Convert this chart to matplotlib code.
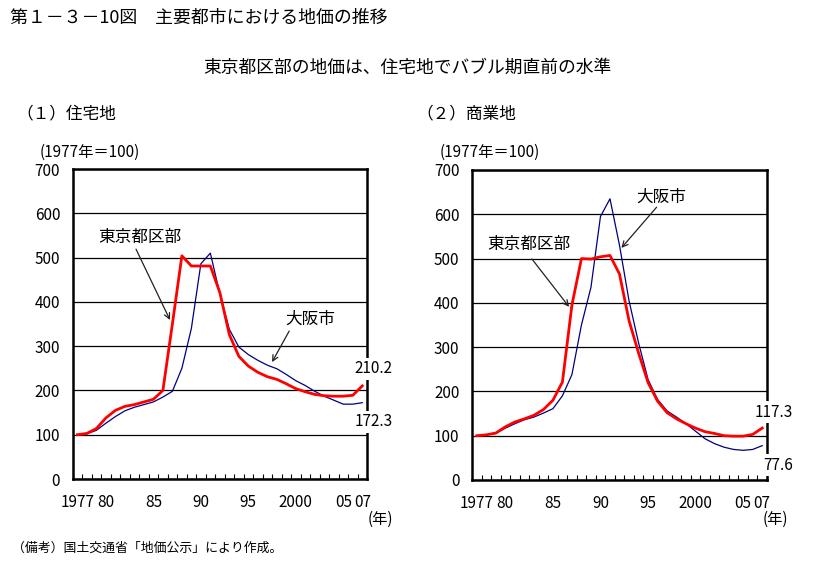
import matplotlib
matplotlib.use("Agg")
import matplotlib.pyplot as plt
import numpy as np

plt.rcParams['font.family'] = ['Noto Sans CJK JP', 'DejaVu Sans']

years = list(range(1977, 2008))
tick_years = [1977, 1980, 1985, 1990, 1995, 2000, 2005, 2007]
tick_labels = ["1977", "80", "85", "90", "95", "2000", "05", "07"]

tokyo_res = [100, 103, 114, 138, 155, 164, 168, 174, 180, 200,
             350, 504, 481, 481, 481, 421, 326, 277, 255, 241,
             231, 225, 215, 204, 197, 191, 188, 187, 187, 189, 210.2]
osaka_res = [100, 102, 110, 126, 141, 154, 162, 168, 174, 185,
             198, 250, 340, 486, 510, 418, 338, 298, 281, 268,
             257, 249, 236, 222, 211, 198, 187, 178, 169, 169, 172.3]
tokyo_com = [100, 102, 106, 120, 131, 138, 146, 159, 180, 221,
             395, 500, 499, 504, 507, 465, 360, 287, 220, 178,
             152, 138, 127, 117, 109, 105, 100, 99, 99, 103, 117.3]
osaka_com = [100, 102, 105, 117, 127, 136, 142, 151, 161, 190,
             238, 350, 435, 595, 635, 530, 405, 310, 227, 182,
             156, 142, 127, 110, 93, 82, 74, 69, 67, 69, 77.6]

W, H = 815, 570
fig = plt.figure(figsize=(W / 100, H / 100), dpi=100)


def fx(x):
    return x / W


def fy(y):
    return 1 - y / H


def make_axes(left_px, top_px, right_px, bottom_px):
    ax = fig.add_axes([fx(left_px), fy(bottom_px),
                       (right_px - left_px) / W, (bottom_px - top_px) / H])
    ax.set_xlim(1976.5, 2007.5)
    ax.set_ylim(0, 700)
    ax.set_yticks(range(0, 701, 100))
    ax.set_yticklabels([str(v) for v in range(0, 701, 100)], fontsize=11)
    ax.set_xticks(tick_years)
    ax.set_xticklabels(tick_labels, fontsize=11)
    ax.set_xticks(np.arange(1976.5, 2008, 1), minor=True)
    ax.tick_params(axis='y', length=0, pad=9)
    ax.tick_params(axis='x', which='major', length=0, pad=10.5)
    ax.tick_params(axis='x', which='minor', direction='in', length=3.5,
                   width=0.8, color='black')
    ax.grid(axis='y', color='black', lw=0.9)
    ax.set_axisbelow(True)
    for s in ax.spines.values():
        s.set_linewidth(1.8)
        s.set_color('black')
    return ax


ax1 = make_axes(72.7, 169, 367, 479)
ax2 = make_axes(472, 170, 767, 480)

for ax, tk, osk in [(ax1, tokyo_res, osaka_res), (ax2, tokyo_com, osaka_com)]:
    ax.plot(years, osk, color='#000080', lw=0.9, zorder=3)
    ax.plot(years, tk, color='#ff0000', lw=2.0, zorder=4)

# end-value labels
box = dict(facecolor='white', edgecolor='none', pad=1.5)
ax1.text(1.088, 0.355, "210.2", transform=ax1.transAxes, ha='right', va='center',
         fontsize=11, bbox=box, clip_on=False, zorder=6)
ax1.text(1.088, 0.184, "172.3", transform=ax1.transAxes, ha='right', va='center',
         fontsize=11, bbox=box, clip_on=False, zorder=6)
ax2.text(1.088, 0.219, "117.3", transform=ax2.transAxes, ha='right', va='center',
         fontsize=11, bbox=box, clip_on=False, zorder=6)
ax2.text(1.088, 0.048, "77.6", transform=ax2.transAxes, ha='right', va='center',
         fontsize=11, bbox=box, clip_on=False, zorder=6)

arrow = dict(arrowstyle='->', color='#222222', lw=0.9, shrinkA=0, shrinkB=0)

# left annotations
ax1.text(1983.6, 546, "東京都区部", ha='center', va='center', fontsize=12)
ax1.annotate("", xy=(1986.75, 359), xytext=(1983.17, 519), arrowprops=arrow)
ax1.text(2001.5, 361, "大阪市", ha='center', va='center', fontsize=12)
ax1.annotate("", xy=(1997.5, 264), xytext=(1999.3, 334), arrowprops=arrow)

# right annotations
ax2.text(1982.5, 533, "東京都区部", ha='center', va='center', fontsize=12)
ax2.annotate("", xy=(1986.7, 391), xytext=(1982.8, 499), arrowprops=arrow)
ax2.text(1996.4, 639, "大阪市", ha='center', va='center', fontsize=12)
ax2.annotate("", xy=(1992.2, 524), xytext=(1995.9, 616), arrowprops=arrow)

# year unit labels
ax1.text(1.003, -0.129, "(年)", transform=ax1.transAxes, ha='left', va='center',
         fontsize=11)
ax2.text(0.986, -0.126, "(年)", transform=ax2.transAxes, ha='left', va='center',
         fontsize=11)

# figure texts
fig.text(fx(10), fy(18), "第１－３－10図　主要都市における地価の推移",
         ha='left', va='center', fontsize=12.9)
fig.text(fx(407), fy(68), "東京都区部の地価は、住宅地でバブル期直前の水準",
         ha='center', va='center', fontsize=12.8)
fig.text(fx(16), fy(114), "（１）住宅地", ha='left', va='center', fontsize=12)
fig.text(fx(416), fy(114), "（２）商業地", ha='left', va='center', fontsize=12)
fig.text(fx(40), fy(152), "(1977年＝100)", ha='left', va='center', fontsize=11)
fig.text(fx(440), fy(152), "(1977年＝100)", ha='left', va='center', fontsize=11)
fig.text(fx(12), fy(548), "（備考）国土交通省「地価公示」により作成。",
         ha='left', va='center', fontsize=9.3)

fig.savefig("out.png", dpi=100)
